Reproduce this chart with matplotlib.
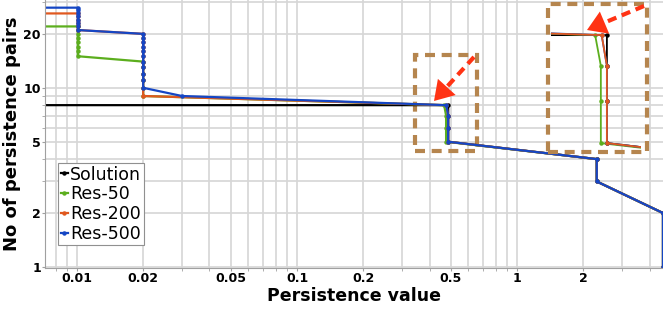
import matplotlib
matplotlib.use('Agg')
import matplotlib.pyplot as plt
import numpy as np
from matplotlib.patches import Rectangle, Polygon
from matplotlib.lines import Line2D
from matplotlib.ticker import LogLocator, NullFormatter, FixedLocator, FixedFormatter

# persistence curves: (persistence value, number of pairs)
sol_x = [0.007, 0.486, 0.486, 0.486, 0.486, 2.3, 2.3, 4.6, 4.6]
sol_y = [8, 8, 7, 6, 5, 4, 3, 2, 1]

res50_x = [0.007, 0.0101, 0.0101, 0.0101, 0.0101, 0.0101, 0.0101, 0.0101, 0.0101,
           0.02, 0.02, 0.02, 0.02, 0.02, 0.02,
           0.466, 0.4756, 0.4756, 0.4756, 2.3, 2.3, 4.6, 4.6]
res50_y = [22, 22, 21, 20, 19, 18, 17, 16, 15,
           14, 13, 12, 11, 10, 9,
           8, 7, 6, 5, 4, 3, 2, 1]

res200_x = [0.007, 0.0101, 0.0101, 0.0101, 0.0101, 0.0101, 0.0101,
            0.02, 0.02, 0.02, 0.02, 0.02, 0.02, 0.02, 0.02, 0.02, 0.02, 0.02, 0.02,
            0.477, 0.486, 0.486, 0.486, 2.3, 2.3, 4.6, 4.6]
res200_y = [26, 26, 25, 24, 23, 22, 21,
            20, 19, 18, 17, 16, 15, 14, 13, 12, 11, 10, 9,
            8, 7, 6, 5, 4, 3, 2, 1]

res500_x = [0.007, 0.0101, 0.0101, 0.0101, 0.0101, 0.0101, 0.0101, 0.0101, 0.0101,
            0.02, 0.02, 0.02, 0.02, 0.02, 0.02, 0.02, 0.02, 0.02, 0.02, 0.02, 0.03,
            0.477, 0.486, 0.486, 0.486, 2.3, 2.3, 4.6, 4.6]
res500_y = [28, 28, 27, 26, 25, 24, 23, 22, 21,
            20, 19, 18, 17, 16, 15, 14, 13, 12, 11, 10, 9,
            8, 7, 6, 5, 4, 3, 2, 1]

series = [
    ('Solution', sol_x, sol_y, '#000000'),
    ('Res-50', res50_x, res50_y, '#5cae1e'),
    ('Res-200', res200_x, res200_y, '#e0581f'),
    ('Res-500', res500_x, res500_y, '#1546c4'),
]

xticks = [0.01, 0.02, 0.05, 0.1, 0.2, 0.5, 1, 2]
xtick_labels = ['0.01', '0.02', '0.05', '0.1', '0.2', '0.5', '1', '2']
yticks = [1, 2, 5, 10, 20]
ytick_labels = ['1', '2', '5', '10', '20']

W, H = 663, 310
fig = plt.figure(figsize=(W / 100, H / 100), dpi=100)
ax = fig.add_axes([45 / W, 42 / H, 618 / W, 268 / H])

for name, xs, ys, c in series:
    ax.plot(xs, ys, color=c, lw=1.6, marker='o', ms=2.2, label=name)

ax.set_xscale('log')
ax.set_yscale('log')
ax.set_xlim(0.00716, 4.6)
ax.set_ylim(0.987, 30.9)

ax.xaxis.set_major_locator(FixedLocator(xticks))
ax.xaxis.set_major_formatter(FixedFormatter(xtick_labels))
ax.xaxis.set_minor_locator(LogLocator(base=10, subs=range(2, 10), numticks=20))
ax.xaxis.set_minor_formatter(NullFormatter())
ax.yaxis.set_major_locator(FixedLocator(yticks))
ax.yaxis.set_major_formatter(FixedFormatter(ytick_labels))
ax.yaxis.set_minor_locator(LogLocator(base=10, subs=range(2, 10), numticks=20))
ax.yaxis.set_minor_formatter(NullFormatter())

ax.grid(True, which='both', color='#d6d6d6', lw=1.2)
ax.set_axisbelow(True)
for s in ['top', 'right']:
    ax.spines[s].set_visible(False)
for s in ['left', 'bottom']:
    ax.spines[s].set_color('#a0a0a0')
ax.tick_params(which='both', length=2, color='#a0a0a0', pad=1)
for lbl in ax.get_xticklabels() + ax.get_yticklabels():
    lbl.set_fontweight('bold')
    lbl.set_fontsize(9)

ax.set_xlabel('Persistence value', fontsize=12.5, fontweight='bold', labelpad=1)
ax.set_ylabel('No of persistence pairs', fontsize=13, fontweight='bold', labelpad=2)

leg = ax.legend(loc='upper left', bbox_to_anchor=(0.021, 0.392), borderaxespad=0,
                fontsize=12.5, handlelength=0.4, handletextpad=0.15, labelspacing=0.1,
                borderpad=0.15, fancybox=False, framealpha=1, edgecolor='#909090')
leg.get_frame().set_linewidth(0.8)

# dashed box around the step in the main plot
box_col = '#b5854e'
dash = (0, (2.4, 1.6))
box = Rectangle((0.344, 4.45), 0.658 - 0.344, 15.3 - 4.45, fill=False,
                edgecolor=box_col, lw=3, linestyle=dash, clip_on=False)
ax.add_patch(box)

# zoomed view of the step (Res-200 drawn last so it shows over Res-500)
ins = fig.add_axes([551 / W, (H - 152) / H, 90 / W, 149 / H])
ins.patch.set_alpha(0)
for name, xs, ys, c in [series[0], series[1], series[3], series[2]]:
    ins.plot(xs, ys, color=c, lw=1.3, marker='o', ms=2.2)
ins.set_xscale('log')
ins.set_yscale('log')
ins.set_xlim(0.398, 0.549)
ins.set_ylim(4.81, 9.2)
ins.set_xticks([])
ins.set_yticks([])
ins.minorticks_off()
for s in ins.spines.values():
    s.set_visible(False)

fig.add_artist(Rectangle((548 / W, (H - 152) / H), 99 / W, 148 / H,
                         transform=fig.transFigure, fill=False, edgecolor=box_col,
                         lw=3, linestyle=dash))

# red dashed arrows (pixel positions, y from top)
arrow_col = '#ff3314'
for tail, tip in [((474, 57), (434, 101)), ((644, 6), (587, 30))]:
    t = np.array([tail[0], H - tail[1]], float)
    p = np.array([tip[0], H - tip[1]], float)
    d = (p - t) / np.hypot(*(p - t))
    n = np.array([-d[1], d[0]])
    base = p - 19 * d
    fig.add_artist(Line2D([t[0] / W, base[0] / W], [t[1] / H, base[1] / H],
                          transform=fig.transFigure, color=arrow_col, lw=3,
                          linestyle=(0, (2.2, 1.4))))
    head = np.array([p, base + 12 * n, base - 12 * n])
    head[:, 0] /= W
    head[:, 1] /= H
    fig.add_artist(Polygon(head, closed=True, transform=fig.transFigure,
                           color=arrow_col, lw=0))

fig.savefig('out.png', dpi=100)
